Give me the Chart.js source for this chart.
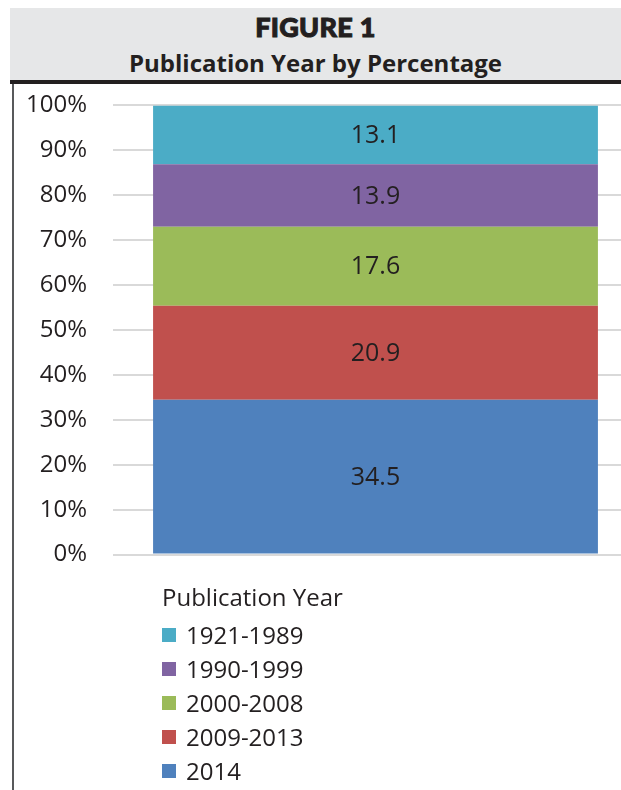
<!DOCTYPE html>
<html>
<head>
<meta charset="utf-8">
<script src="https://cdn.jsdelivr.net/npm/chart.js@4.4.0/dist/chart.umd.min.js"></script>
<style>
  body { margin: 0; background: #fff; width: 621px; height: 790px; overflow: hidden; font-family: 'Open Sans', sans-serif; color: #231f20; }
  #header { position: absolute; left: 10px; top: 8px; width: 611px; height: 72px; background: #e6e7e8; }
  #header .fig { position: absolute; left: 0; right: 0; top: 2px; text-align: center; font-family: Lato, sans-serif; font-weight: 900; font-size: 27px; line-height: 34px; -webkit-text-stroke: 1px #231f20; letter-spacing: 0.3px; }
  #header .sub { position: absolute; left: 0; right: 0; top: 39px; text-align: center; font-family: 'Open Sans', sans-serif; font-weight: 700; font-size: 24px; line-height: 32px; }
  #rule { position: absolute; left: 10px; top: 80px; width: 611px; height: 4px; background: #231f20; }
  #side { position: absolute; left: 12px; top: 84px; width: 2px; height: 706px; background: #58595b; }
  #wrap { position: absolute; left: 14px; top: 65px; width: 607px; height: 530px; }
  #legend { position: absolute; left: 162px; top: 582px; font-size: 24px; }
  #legend .title { height: 30px; line-height: 30px; margin-bottom: 6px; }
  #legend .item { height: 34px; line-height: 34px; display: flex; align-items: center; }
  #legend .box { width: 14px; height: 14px; margin-right: 10px; }
</style>
</head>
<body>
<div id="header">
  <div class="fig">FIGURE 1</div>
  <div class="sub">Publication Year by Percentage</div>
</div>
<div id="rule"></div>
<div id="side"></div>
<div id="wrap"><canvas id="yearChart"></canvas></div>
<div id="legend"></div>
<script>
const categories = ['Publication Year'];
const seriesNames = ['2014', '2009-2013', '2000-2008', '1990-1999', '1921-1989'];
const seriesValues = [34.5, 20.9, 17.6, 13.9, 13.1];
const seriesColors = ['#4f81bd', '#c0504d', '#9bbb59', '#8064a2', '#4bacc6'];
const tickLabels = ['0%', '10%', '20%', '30%', '40%', '50%', '60%', '70%', '80%', '90%', '100%'];

document.addEventListener('DOMContentLoaded', function() {
  renderChart();
});

function renderChart() {
  const ctx = document.getElementById('yearChart').getContext('2d');

  const data = {
    labels: categories,
    datasets: seriesNames.map(function(name, i) {
      return {
        label: name,
        data: [seriesValues[i]],
        backgroundColor: seriesColors[i],
        borderWidth: 0,
        categoryPercentage: 1,
        barPercentage: 0.906
      };
    })
  };

  // values in the middle of each segment
  const valueLabels = {
    id: 'valueLabels',
    afterDatasetsDraw(chart) {
      const c = chart.ctx;
      c.save();
      c.font = '25px "Open Sans"';
      c.fillStyle = '#231f20';
      c.textAlign = 'center';
      c.textBaseline = 'middle';
      chart.data.datasets.forEach((ds, i) => {
        chart.getDatasetMeta(i).data.forEach((bar, j) => {
          c.fillText(ds.data[j].toFixed(1), bar.x, (bar.y + bar.base) / 2 + 1);
        });
      });
      c.restore();
    }
  };

  // legend drawn as html, top series first
  const htmlLegend = {
    id: 'htmlLegend',
    afterUpdate(chart) {
      const box = document.getElementById('legend');
      let html = '<div class="title">Publication Year</div>';
      for (let i = chart.data.datasets.length - 1; i >= 0; i--) {
        const ds = chart.data.datasets[i];
        html += '<div class="item"><span class="box" style="background:' + ds.backgroundColor + '"></span>' + ds.label + '</div>';
      }
      box.innerHTML = html;
    }
  };

  const options = {
    responsive: true,
    maintainAspectRatio: false,
    animation: false,
    layout: { padding: 0 },
    scales: {
      x: {
        stacked: true,
        display: false
      },
      y: {
        stacked: true,
        min: 0,
        max: 100,
        afterFit: function(scale) { scale.width = 116; },
        ticks: {
          stepSize: 10,
          padding: 26,
          color: '#231f20',
          font: { family: 'Open Sans', size: 24 },
          callback: function(value, index) { return tickLabels[index]; }
        },
        grid: {
          color: '#d9d9d9',
          lineWidth: 2,
          drawTicks: true,
          tickLength: 17,
          tickColor: '#d9d9d9'
        },
        border: { display: false }
      }
    },
    plugins: {
      legend: { display: false },
      tooltip: { enabled: false }
    }
  };

  window.yearChart = new Chart(ctx, {
    type: 'bar',
    data: data,
    options: options,
    plugins: [valueLabels, htmlLegend]
  });
}
</script>
</body>
</html>
